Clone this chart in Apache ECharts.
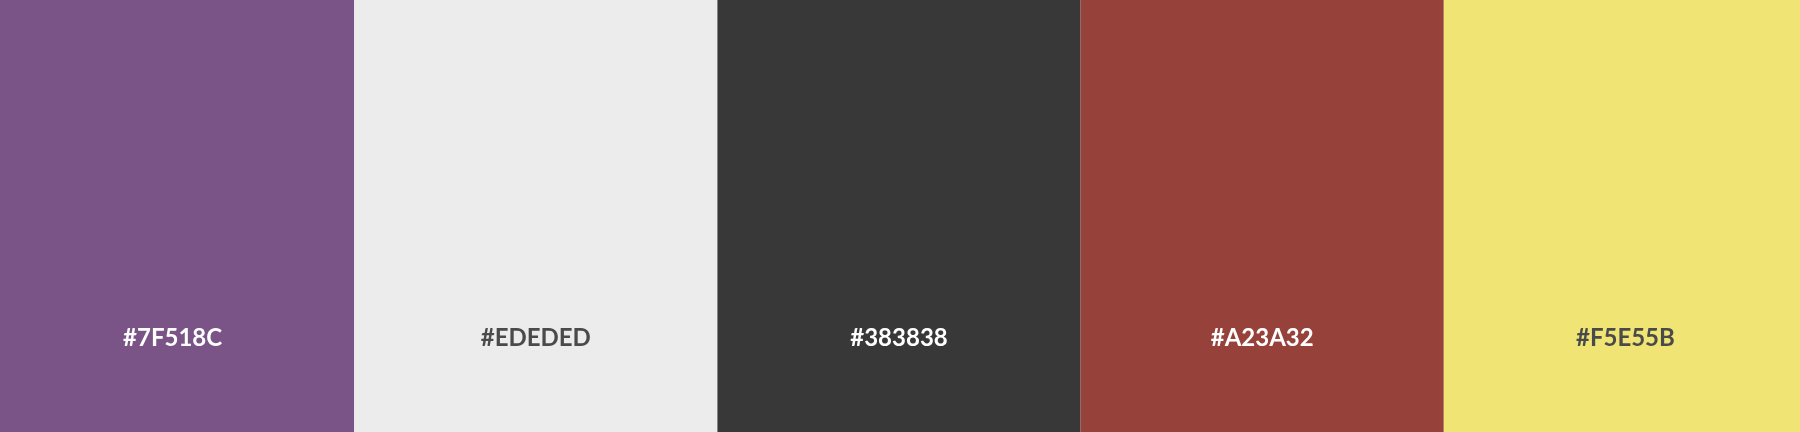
<!DOCTYPE html>
<html>
<head>
<meta charset="utf-8">
<script src="https://cdn.jsdelivr.net/npm/echarts@6/dist/echarts.min.js"></script>
<style>
html,body{margin:0;padding:0;background:#fff;overflow:hidden;width:1800px;height:432px;}
#chart{width:1816px;height:432px;margin-left:-9px;}
</style>
</head>
<body>
<div id="chart"></div>
<script>
const hexLabels = ['#7F518C', '#EDEDED', '#383838', '#A23A32', '#F5E55B'];
const swatchValues = [1, 1, 1, 1, 1];
const swatchColors = ['#7A5487', '#ECECEC', '#383838', '#96423A', '#F0E574'];
const labelColors = ['#FFFFFF', '#4A4A4A', '#FFFFFF', '#FFFFFF', '#4A4A4A'];

const chart = echarts.init(document.getElementById('chart'), null, {renderer: 'canvas'});
chart.setOption({
  animation: false,
  backgroundColor: '#ffffff',
  grid: {left: 0, right: 0, top: 0, bottom: 0, containLabel: false},
  xAxis: {type: 'category', data: hexLabels, show: false},
  yAxis: {type: 'value', min: 0, max: 1, show: false},
  series: [{
    type: 'bar',
    barCategoryGap: 0,
    barWidth: '100%',
    data: swatchValues.map((v, i) => ({
      value: v,
      itemStyle: {color: swatchColors[i]},
      label: {color: labelColors[i]}
    })),
    label: {
      show: true,
      formatter: (p) => hexLabels[p.dataIndex],
      position: ['50%', 338],
      align: 'center',
      verticalAlign: 'middle',
      fontFamily: 'Lato',
      fontWeight: 'bold',
      fontSize: 24
    }
  }]
});
</script>
</body>
</html>
